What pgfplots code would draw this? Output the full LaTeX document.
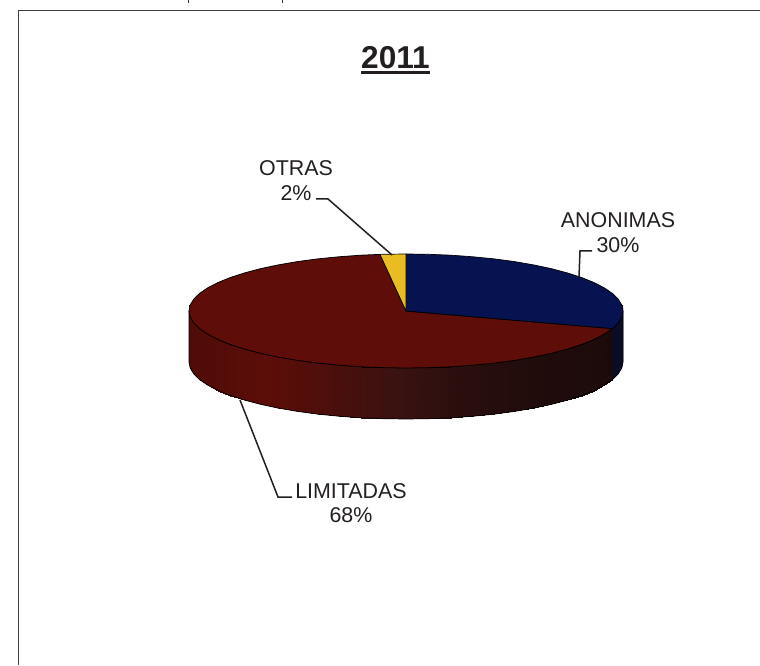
\documentclass[border=0pt]{standalone}
\usepackage{fontspec}
\setmainfont{Liberation Sans}
\usepackage{pgfplots}
\pgfplotsset{compat=1.18}
\usepackage{pgfplotstable}
\definecolor{cblue}{HTML}{061350}
\definecolor{cred}{HTML}{5F0D09}
\definecolor{cyel}{HTML}{E9BC21}
\definecolor{cbw}{HTML}{0A0D25}
\definecolor{cink}{HTML}{231F20}
\tikzset{lab/.style={inner sep=0pt, text=cink, font=\fontsize{21.4}{25}\selectfont}}
\pgfplotstableread{
x y m
612.4 336.4 612.4
604.2 330.8 604.2
593.9 325.5 593.9
581.6 320.5 581.6
567.3 315.9 567.3
551.2 311.6 551.2
533.6 307.9 533.6
514.5 304.6 514.5
494.3 301.9 494.3
473.1 299.8 473.1
451.1 298.2 451.1
428.7 297.3 428.7
406.0 297.0 406.0
383.3 297.3 383.3
360.9 298.2 360.9
338.9 299.8 338.9
317.7 301.9 317.7
297.5 304.6 297.5
278.4 307.9 278.4
260.8 311.6 260.8
244.7 315.9 244.7
230.4 320.5 230.4
218.1 325.5 218.1
207.8 330.8 207.8
199.6 336.4 199.6
193.8 342.1 193.8
190.2 348.0 190.2
189.0 354.0 189.0
612.4 285.4 612.4
604.2 279.8 604.2
593.9 274.5 593.9
581.6 269.5 581.6
567.3 264.9 567.3
551.2 260.6 551.2
533.6 256.9 533.6
514.5 253.6 514.5
494.3 250.9 494.3
473.1 248.8 473.1
451.1 247.2 451.1
428.7 246.3 428.7
406.0 246.0 406.0
383.3 246.3 383.3
360.9 247.2 360.9
338.9 248.8 338.9
317.7 250.9 317.7
297.5 253.6 297.5
278.4 256.9 278.4
260.8 260.6 260.8
244.7 264.9 244.7
230.4 269.5 230.4
218.1 274.5 218.1
207.8 279.8 207.8
199.6 285.4 199.6
193.8 291.1 193.8
190.2 297.0 190.2
189.0 303.0 189.0
}\wallred
\begin{document}
\begin{tikzpicture}
\begin{axis}[
  scale only axis, width=760pt, height=665pt,
  xmin=0, xmax=760, ymin=0, ymax=665,
  hide axis, clip=true,
  colormap={wall}{rgb255(189pt)=(78,12,8) rgb255(265pt)=(92,13,8) rgb255(330pt)=(76,15,11) rgb255(395pt)=(58,18,17) rgb255(450pt)=(44,15,14) rgb255(520pt)=(34,12,12) rgb255(613pt)=(28,10,10)},
  point meta min=189, point meta max=613,
]
% page extent
\addplot[draw=none, forget plot] coordinates {(0,0) (760,665)};
% frame
\addplot[color=black!75, line width=1pt, forget plot] coordinates {(18,0) (18,654) (760,654)};
\draw[black!80, line width=1pt] (axis cs:188,665) -- (axis cs:188,662);
\draw[black!80, line width=1pt] (axis cs:282,665) -- (axis cs:282,662);
% wall base, under the shaded strip
\addplot[fill=black!85!cred, draw=none, forget plot] coordinates {(623,360) (623,303) (621.8,297) (618.2,291.1) (612.4,285.4) (604.2,279.8) (593.9,274.5) (581.6,269.5) (567.3,264.9) (551.2,260.6) (533.6,256.9) (514.5,253.6) (494.3,250.9) (473.1,248.8) (451.1,247.2) (428.7,246.3) (406,246) (383.3,246.3) (360.9,247.2) (338.9,248.8) (317.7,250.9) (297.5,253.6) (278.4,256.9) (260.8,260.6) (244.7,264.9) (230.4,269.5) (218.1,274.5) (207.8,279.8) (199.6,285.4) (193.8,291.1) (190.2,297) (189,303) (189,360)} --cycle;
% wall
\addplot[surf, shader=interp, mesh/rows=2, mesh/cols=28, point meta=explicit, forget plot] table[x=x, y=y, meta=m] {\wallred};
\addplot[fill=cbw, draw=none, forget plot] coordinates {(623,354) (621.8,348) (618.2,342.1) (612.4,336.4) (612.4,285.4) (618.2,291.1) (621.8,297) (623,303)} --cycle;
% wall outline
\addplot[color=black, line width=0.7pt, forget plot] coordinates {(623,354) (623,303) (621.8,297) (618.2,291.1) (612.4,285.4) (604.2,279.8) (593.9,274.5) (581.6,269.5) (567.3,264.9) (551.2,260.6) (533.6,256.9) (514.5,253.6) (494.3,250.9) (473.1,248.8) (451.1,247.2) (428.7,246.3) (406,246) (383.3,246.3) (360.9,247.2) (338.9,248.8) (317.7,250.9) (297.5,253.6) (278.4,256.9) (260.8,260.6) (244.7,264.9) (230.4,269.5) (218.1,274.5) (207.8,279.8) (199.6,285.4) (193.8,291.1) (190.2,297) (189,303) (189,354)};
% red top
\addplot[fill=cred, draw=black, line width=0.8pt, forget plot] coordinates {(406,354) (612.4,336.4) (604.2,330.8) (593.9,325.5) (581.6,320.5) (567.3,315.9) (551.2,311.6) (533.6,307.9) (514.5,304.6) (494.3,301.9) (473.1,299.8) (451.1,298.2) (428.7,297.3) (406,297) (383.3,297.3) (360.9,298.2) (338.9,299.8) (317.7,301.9) (297.5,304.6) (278.4,307.9) (260.8,311.6) (244.7,315.9) (230.4,320.5) (218.1,325.5) (207.8,330.8) (199.6,336.4) (193.8,342.1) (190.2,348) (189,354) (190.2,360) (193.8,365.9) (199.6,371.6) (207.8,377.2) (218.1,382.5) (230.4,387.5) (244.7,392.1) (260.8,396.4) (278.4,400.1) (297.5,403.4) (317.7,406.1) (338.9,408.2) (360.9,409.8) (380,410.6)} --cycle;
% blue top
\addplot[fill=cblue, draw=black, line width=0.7pt, forget plot] coordinates {(406,354) (406,411) (428.7,410.7) (451.1,409.8) (473.1,408.2) (494.3,406.1) (514.5,403.4) (533.6,400.1) (551.2,396.4) (567.3,392.1) (581.6,387.5) (593.9,382.5) (604.2,377.2) (612.4,371.6) (618.2,365.9) (621.8,360) (623,354) (621.8,348) (618.2,342.1) (612.4,336.4)} --cycle;
% yellow top
\addplot[fill=cyel, draw=black, line width=0.7pt, forget plot] coordinates {(406,354) (380,410.6) (383.3,410.7) (406,411)} --cycle;
% leaders
\addplot[color=cink, line width=1.5pt, forget plot] coordinates {(316,466) (328,466) (392,410)};
\addplot[color=cink, line width=1.5pt, forget plot] coordinates {(592,414) (580,414) (579,388)};
\addplot[color=cink, line width=1.5pt, forget plot] coordinates {(240,265) (278,168) (292,168)};
% title underline
\addplot[color=cink, line width=3.4pt, forget plot] coordinates {(361,592.5) (430,592.5)};
% text
\node[inner sep=0pt, text=cink, font=\fontsize{31.6}{36}\selectfont\bfseries] at (axis cs:395.5,607.5) {2011};
\node[lab] at (axis cs:296,497) {OTRAS};
\node[lab] at (axis cs:296,472) {2\%};
\node[lab] at (axis cs:618,445) {ANONIMAS};
\node[lab] at (axis cs:618,420) {30\%};
\node[lab] at (axis cs:351,174) {LIMITADAS};
\node[lab] at (axis cs:351,150) {68\%};
\end{axis}
\end{tikzpicture}
\end{document}
